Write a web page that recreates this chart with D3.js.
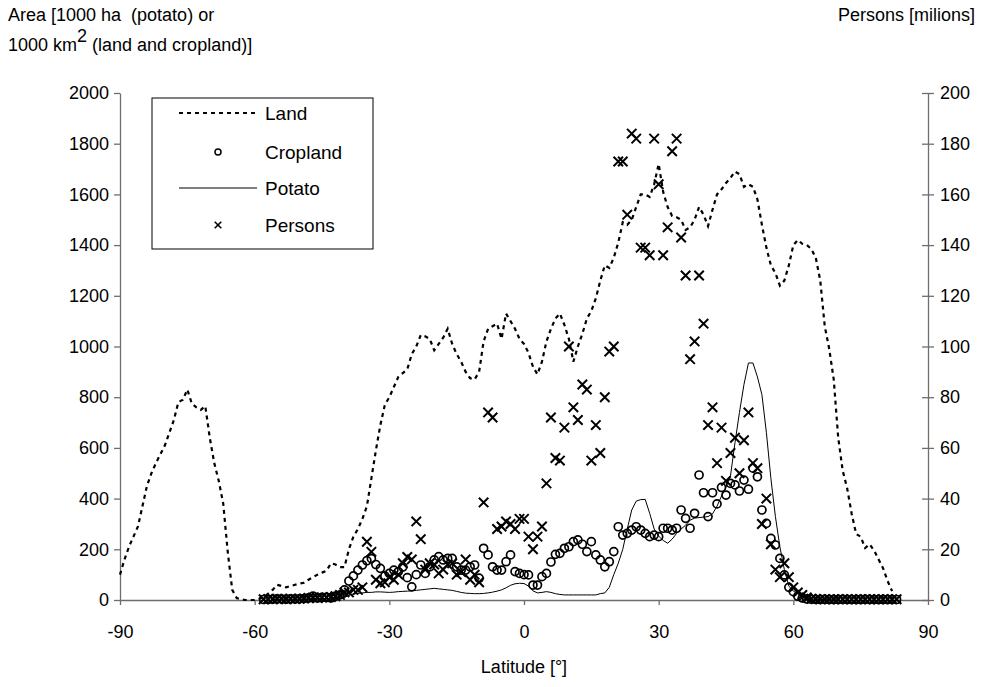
<!DOCTYPE html>
<html>
<head>
<meta charset="utf-8">
<script src="https://cdn.jsdelivr.net/npm/d3@7"></script>
<style>
  body { margin: 0; background: #fff; }
  svg { font-family: "Liberation Sans", Arial, sans-serif; }
</style>
</head>
<body>
<svg id="chart" width="982" height="687"></svg>
<script>
// latitude of every value below (degrees)
var latitudes = [
  -90,-89,-88,-87,-86,-85,-84,-83,-82,-81,-80,-79,-78,-77,-76,-75,-74,-73,-72,-71,
  -70,-69,-68,-67,-66,-65,-64,-63,-62,-61,-60,-59,-58,-57,-56,-55,-54,-53,-52,-51,
  -50,-49,-48,-47,-46,-45,-44,-43,-42,-41,-40,-39,-38,-37,-36,-35,-34,-33,-32,-31,
  -30,-29,-28,-27,-26,-25,-24,-23,-22,-21,-20,-19,-18,-17,-16,-15,-14,-13,-12,-11,
  -10,-9,-8,-7,-6,-5,-4,-3,-2,-1,0,1,2,3,4,5,6,7,8,9,
  10,11,12,13,14,15,16,17,18,19,20,21,22,23,24,25,26,27,28,29,
  30,31,32,33,34,35,36,37,38,39,40,41,42,43,44,45,46,47,48,49,
  50,51,52,53,54,55,56,57,58,59,60,61,62,63,64,65,66,67,68,69,
  70,71,72,73,74,75,76,77,78,79,80,81,82,83,84,85
];

// land area, 1000 km2
var land = [
  100,160,210,250,290,370,450,500,540,575,610,660,710,780,790,830,775,760,750,765,
  640,540,470,380,190,40,8,2,0,0,0,5,10,25,40,60,55,50,55,60,
  65,68,80,90,100,108,115,145,140,130,130,200,250,280,320,370,480,590,690,770,
  800,840,880,895,910,970,1000,1045,1040,1030,985,1010,1035,1070,1010,970,940,900,875,870,
  900,1020,1070,1080,1090,1030,1130,1100,1070,1030,1010,975,920,890,940,1020,1070,1110,1130,1085,
  1030,940,1000,1050,1110,1140,1190,1260,1320,1310,1350,1410,1490,1480,1500,1550,1600,1600,1590,1640,
  1720,1610,1550,1515,1510,1500,1460,1470,1500,1550,1520,1475,1540,1600,1620,1645,1665,1690,1680,1630,
  1640,1630,1580,1480,1390,1320,1290,1240,1260,1320,1400,1420,1405,1400,1385,1350,1260,1080,990,870,
  640,510,440,340,260,250,205,220,195,160,125,75,35,null,null,null
];

// cropland area, 1000 km2
var cropland = [
  null,null,null,null,null,null,null,null,null,null,null,null,null,null,null,null,null,null,null,null,
  null,null,null,null,null,null,null,null,null,null,null,null,2,3,3,5,4,3,5,4,
  5,6,8,15,8,10,10,8,15,20,40,75,95,118,138,155,163,140,125,95,
  105,118,112,130,88,52,100,138,105,131,158,171,158,164,164,131,118,118,131,138,
  86,204,178,131,118,118,151,178,112,105,100,99,59,59,92,105,150,180,184,204,
  210,230,237,220,191,230,178,158,131,151,191,289,256,263,276,289,276,263,250,256,
  250,283,283,276,283,355,322,283,342,493,423,329,423,379,444,414,460,454,430,473,
  437,520,486,355,302,243,217,164,99,50,33,15,8,4,3,2,2,3,2,2,
  2,3,2,2,2,2,3,2,2,2,2,2,2,2,null,null
];

// potato area, 1000 ha
var potato = [
  null,null,null,null,null,null,null,null,null,null,null,null,null,null,null,null,null,null,null,null,
  null,null,null,null,null,null,null,null,null,null,null,null,null,null,2,2,3,3,3,3,
  4,4,4,5,5,5,6,6,7,8,10,18,24,26,28,30,30,32,32,31,
  30,31,33,34,35,36,38,40,42,44,46,44,42,40,38,34,30,27,26,25,
  25,26,28,31,35,40,48,58,64,66,65,55,36,28,30,33,30,25,22,20,
  20,20,20,20,20,20,20,25,28,50,100,145,200,280,355,390,396,397,342,280,
  252,235,224,240,263,280,295,315,323,325,327,329,340,370,410,445,490,620,740,850,
  935,935,880,810,660,480,330,210,120,55,35,25,12,8,5,3,2,2,1,1,
  1,null,null,null,null,null,null,null,null,null,null,null,null,null,null,null
];

// persons, millions (right axis)
var persons = [
  null,null,null,null,null,null,null,null,null,null,null,null,null,null,null,null,null,null,null,null,
  null,null,null,null,null,null,null,null,null,null,null,null,0.3,0.4,0.3,0.5,0.4,0.3,0.5,0.4,
  0.5,0.6,0.8,1,0.8,1,1,1.2,1.5,2,3,3,4,4,5,23,19,8,6.6,7,
  9,8,10,14.5,17,16,31,24,12,14.5,14,10.5,12,14,14.5,10,11,16,8,10,
  7,38.5,74,72,28,29,31,30,28,32,32,25,20,25,29,46,72,56,55,68,
  100,76,71,85,83,55,69,58,80,98,100,173,173,152,184,182,139,139,136,182,
  164,136,147,177,182,143,128,95,102,128,109,69,76,54,68,47,58,64,50,63,
  74,54,52,30,40,22,12,9,14.5,9,5,3,2,1,0.5,0.4,0.3,0.3,0.3,0.3,
  0.3,0.3,0.3,0.3,0.3,0.3,0.3,0.3,0.3,0.3,0.3,0.3,0.3,0.3,null,null
];

var xTicks = [-90, -60, -30, 0, 30, 60, 90];
var leftTicks = [0, 200, 400, 600, 800, 1000, 1200, 1400, 1600, 1800, 2000];
var rightTicks = [0, 20, 40, 60, 80, 100, 120, 140, 160, 180, 200];

var svg = d3.select("#chart");
var plotLeft = 120, plotRight = 928, plotTop = 93, plotBottom = 600;
var axisColor = "#6e6e6e";
var fontSize = "18px";

var x = d3.scaleLinear().domain([-90, 90]).range([plotLeft, plotRight]);
var yLeft = d3.scaleLinear().domain([0, 2000]).range([plotBottom, plotTop]);
var yRight = d3.scaleLinear().domain([0, 200]).range([plotBottom, plotTop]);

// build rows from the arrays
function rows(values) {
  return latitudes.map((lat, i) => ({ lat: lat, v: values[i] }))
                  .filter(d => d.v !== null);
}
var plain = d => String(d);

// axes
var gLeft = svg.append("g")
  .attr("transform", `translate(${plotLeft},0)`)
  .call(d3.axisLeft(yLeft).tickValues(leftTicks).tickFormat(plain)
    .tickSize(6).tickSizeOuter(0).tickPadding(5));
var gRight = svg.append("g")
  .attr("transform", `translate(${plotRight},0)`)
  .call(d3.axisRight(yRight).tickValues(rightTicks).tickFormat(plain)
    .tickSize(6).tickSizeOuter(0).tickPadding(6));
gRight.selectAll(".tick line").attr("x1", -6);
var gBottom = svg.append("g")
  .attr("transform", `translate(0,${plotBottom})`)
  .call(d3.axisBottom(x).tickValues(xTicks).tickFormat(plain)
    .tickSize(5).tickSizeOuter(0).tickPadding(20));

[gLeft, gRight, gBottom].forEach(g => {
  g.selectAll(".domain").attr("stroke", axisColor).attr("stroke-width", 1.3);
  g.selectAll(".tick line").attr("stroke", axisColor).attr("stroke-width", 1.3);
  g.selectAll("text").attr("fill", "#000").style("font-size", fontSize)
    .style("font-family", "'Liberation Sans', Arial, sans-serif");
});

// land: dashed line
var seriesLine = d3.line().x(d => x(d.lat)).y(d => yLeft(d.v));
svg.append("path")
  .datum(rows(land))
  .attr("fill", "none")
  .attr("stroke", "#000")
  .attr("stroke-width", 2.2)
  .attr("stroke-dasharray", "4,4")
  .attr("d", seriesLine);

// potato: thin solid line
svg.append("path")
  .datum(rows(potato))
  .attr("fill", "none")
  .attr("stroke", "#000")
  .attr("stroke-width", 1)
  .attr("d", seriesLine);

// cropland: open circles
svg.append("g").selectAll("circle")
  .data(rows(cropland))
  .join("circle")
  .attr("cx", d => x(d.lat))
  .attr("cy", d => yLeft(d.v))
  .attr("r", 4)
  .attr("fill", "none")
  .attr("stroke", "#000")
  .attr("stroke-width", 1.7);

// persons: crosses on the right axis
var cross = d3.symbol().type(d3.symbolX).size(60);
svg.append("g").selectAll("path")
  .data(rows(persons))
  .join("path")
  .attr("transform", d => `translate(${x(d.lat)},${yRight(d.v)})`)
  .attr("d", cross)
  .attr("fill", "none")
  .attr("stroke", "#000")
  .attr("stroke-width", 2);

// legend
var legend = svg.append("g").attr("transform", "translate(152,98)");
legend.append("rect")
  .attr("width", 221).attr("height", 151)
  .attr("fill", "#fff").attr("stroke", "#000").attr("stroke-width", 1);
var legendItems = ["Land", "Cropland", "Potato", "Persons"];
var legendY = [15, 54, 90, 127];
legendItems.forEach((name, i) => {
  var yy = legendY[i];
  if (name == "Land") {
    legend.append("line").attr("x1", 27).attr("x2", 105).attr("y1", yy).attr("y2", yy)
      .attr("stroke", "#000").attr("stroke-width", 2).attr("stroke-dasharray", "4,4");
  } else if (name == "Potato") {
    legend.append("line").attr("x1", 27).attr("x2", 105).attr("y1", yy).attr("y2", yy)
      .attr("stroke", "#000").attr("stroke-width", 1);
  } else if (name == "Cropland") {
    legend.append("circle").attr("cx", 66).attr("cy", yy).attr("r", 3)
      .attr("fill", "none").attr("stroke", "#000").attr("stroke-width", 1.5);
  } else {
    legend.append("path").attr("transform", `translate(66,${yy})`)
      .attr("d", d3.symbol().type(d3.symbolX).size(30))
      .attr("fill", "none").attr("stroke", "#000").attr("stroke-width", 1.6);
  }
  legend.append("text").attr("x", 113).attr("y", yy).attr("dy", "0.35em")
    .style("font-size", "19px").text(name);
});

// axis titles
var t1 = svg.append("text").attr("x", 8).attr("y", 21)
  .style("font-size", fontSize).style("white-space", "pre");
t1.text("Area [1000 ha  (potato) or");
var t2 = svg.append("text").attr("x", 8).attr("y", 51).style("font-size", fontSize);
t2.append("tspan").text("1000 km");
t2.append("tspan").attr("dy", -9).text("2");
t2.append("tspan").attr("dy", 9).text(" (land and cropland)]");

svg.append("text").attr("x", 975).attr("y", 21).attr("text-anchor", "end")
  .style("font-size", fontSize).text("Persons [milions]");

svg.append("text").attr("x", (plotLeft + plotRight) / 2).attr("y", 673)
  .attr("text-anchor", "middle").style("font-size", fontSize).text("Latitude [°]");
</script>
</body>
</html>
